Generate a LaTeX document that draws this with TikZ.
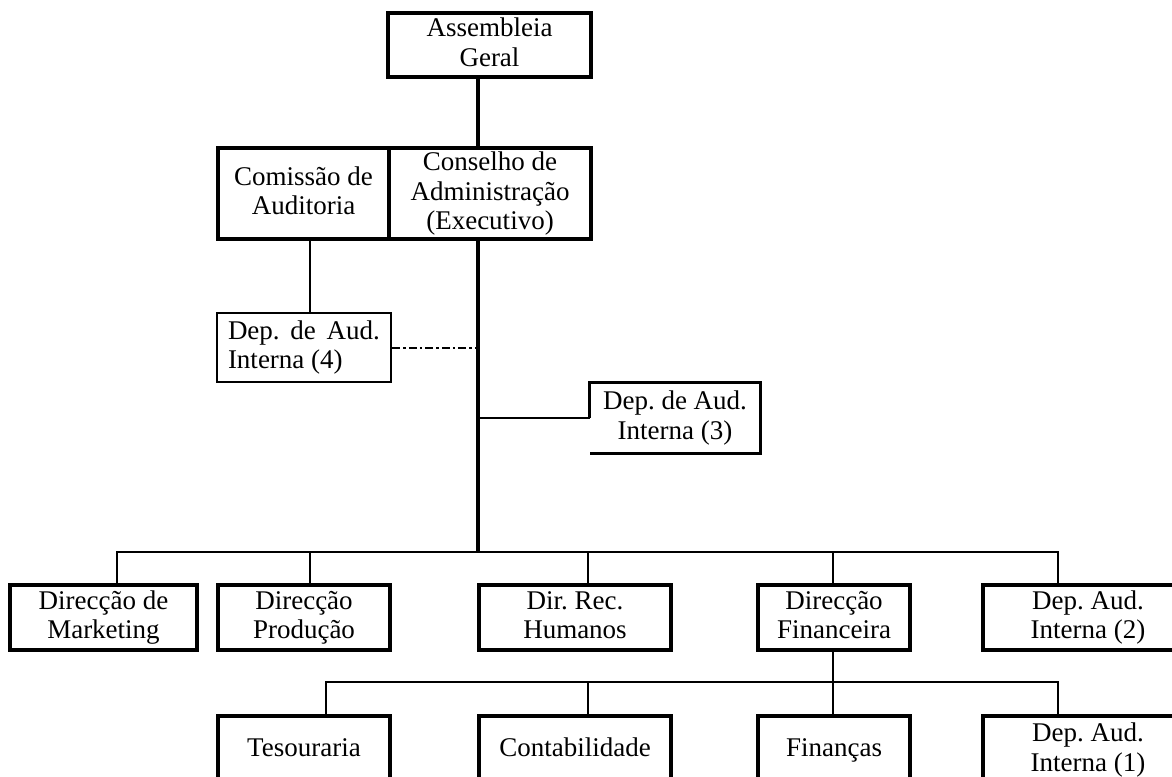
\documentclass[tikz,border=0pt]{standalone}
\usepackage{fontspec}
\setmainfont{Liberation Serif}
\begin{document}
\frenchspacing
\begin{tikzpicture}[x=1pt,y=-1pt,
  txt/.style={inner sep=0pt,align=center,font=\fontsize{27}{29.5}\selectfont},
  box/.style={txt,draw,line width=3.2pt},
  lone/.style={text height=19pt,text depth=6pt},
  ltwo/.style={text height=48.5pt,text depth=6pt},
  lthree/.style={text height=78pt,text depth=6pt},
  conn/.style={line width=2.8pt},
  mainline/.style={line width=3.4pt},
  dd/.style={line width=2pt,dash pattern=on 8pt off 3pt on 2.5pt off 3pt}]
\clip (0,0) rectangle (1172,776);
\fill[white] (0,0) rectangle (1172,776);
% top
\node[box,ltwo,minimum width=203pt,minimum height=64pt] (ag) at (489.5,45) {Assembleia\\Geral};
\node[box,ltwo,minimum width=171pt,minimum height=91pt] (cm) at (303.5,193.5) {Comissão de\\Auditoria};
\node[box,lthree,minimum width=202pt,minimum height=91pt] (cons) at (490,193.5) {Conselho de\\Administração\\(Executivo)};
\node[box,ltwo,line width=2.6pt,minimum width=174pt,minimum height=69pt,align=left] (d4) at (304,347.5)
  {\makebox[152pt][s]{Dep. de Aud.}\\Interna (4)};
\node[txt,ltwo,minimum width=170pt,minimum height=70pt] (d3) at (675,418) {Dep. de Aud.\\Interna (3)};
\draw[line width=2.9pt] (d3.west) -- (d3.north west) -- (d3.north east) -- (d3.south east) -- (d3.south west);
% middle row
\node[box,ltwo,minimum width=187pt,minimum height=65pt] (mk) at (103.5,617.5) {Direcção de\\Marketing};
\node[box,ltwo,minimum width=172pt,minimum height=65pt] (pr) at (304,617.5) {Direcção\\Produção};
\node[box,ltwo,minimum width=192pt,minimum height=65pt] (rh) at (575,617.5) {Dir. Rec.\\Humanos};
\node[box,ltwo,minimum width=152pt,minimum height=65pt] (df) at (834,617.5) {Direcção\\Financeira};
\node[box,ltwo,minimum width=210pt,minimum height=65pt] (d2) at (1088,617.5) {Dep. Aud.\\Interna (2)};
% bottom row
\node[box,lone,minimum width=172pt,minimum height=68pt] (te) at (304,750) {Tesouraria};
\node[box,lone,minimum width=192pt,minimum height=68pt] (co) at (575,750) {Contabilidade};
\node[box,lone,minimum width=152pt,minimum height=68pt] (fi) at (834,750) {Finanças};
\node[box,ltwo,minimum width=210pt,minimum height=68pt] (d1) at (1088,750) {Dep. Aud.\\Interna (1)};
% connectors
\coordinate (bus) at (478,552);
\draw[mainline] (ag.south -| bus) -- (cons.north -| bus);
\draw[mainline] (cons.south -| bus) -- (bus);
\draw[conn] ([xshift=6.5pt]cm.south) -- ([xshift=6pt]d4.north);
\draw[dd] (d4.east) -- (d4.east -| bus);
\coordinate (j3) at (478,418);
\draw[conn] (j3) -- (d3.west);
\coordinate (bl) at (117,552);
\coordinate (br) at (1058,552);
\draw[conn] (bl |- mk.north) -- (bl) -- (br) -- (br |- d2.north);
\coordinate (bp) at (310,552);
\draw[conn] (bp) -- (bp |- pr.north);
\coordinate (bh) at (588,552);
\draw[conn] (bh) -- (bh |- rh.north);
\coordinate (bf) at (833,552);
\draw[conn] (bf) -- (bf |- df.north);
\coordinate (fl) at (326,682);
\coordinate (fr) at (1058,682);
\coordinate (fm) at (833,682);
\draw[conn] (df.south -| fm) -- (fm);
\draw[conn] (fl |- te.north) -- (fl) -- (fr) -- (fr |- d1.north);
\coordinate (fc) at (588,682);
\draw[conn] (fc) -- (fc |- co.north);
\draw[conn] (fm) -- (fm |- fi.north);
\end{tikzpicture}
\end{document}
